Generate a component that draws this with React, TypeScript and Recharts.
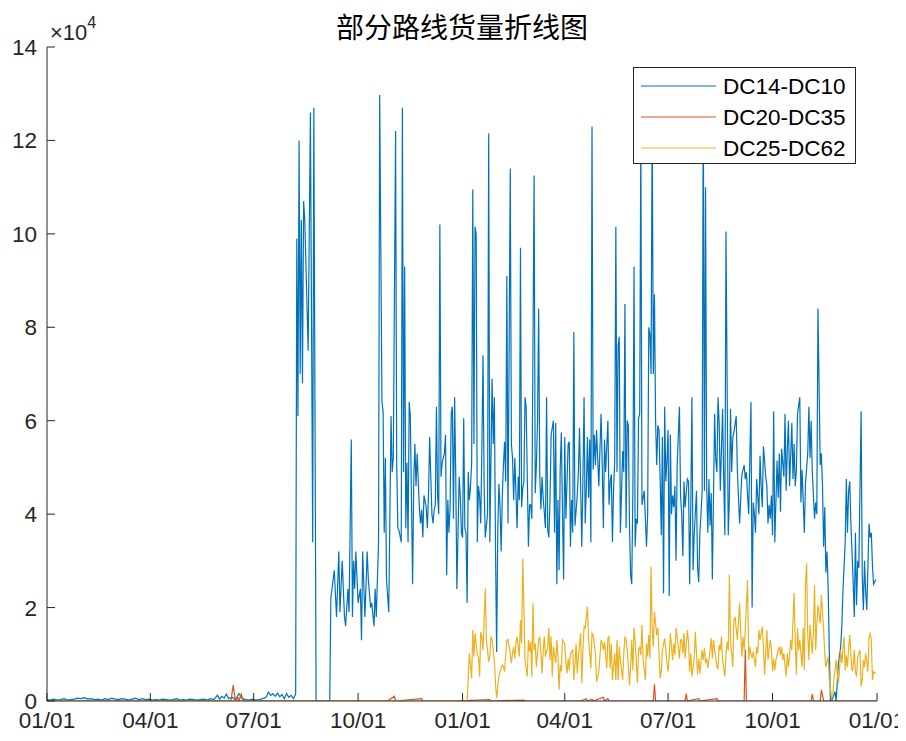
import React from 'react';
import { LineChart, Line, XAxis, YAxis } from 'recharts';

// ---- axis definitions (day index from 01/01 of a leap year, two years) ----
const xTicks = [0, 91, 182, 274, 366, 456, 547, 639, 731];
const xTickLabels = ['01/01', '04/01', '07/01', '10/01', '01/01', '04/01', '07/01', '10/01', '01/01'];
const yTicks = [0, 2, 4, 6, 8, 10, 12, 14];
const seriesNames = ['DC14-DC10', 'DC20-DC35', 'DC25-DC62'];
const seriesColors = ['#0072BD', '#D95319', '#EDB120'];
const chartTitle = '部分路线货量折线图';

// ---- values in units of 10^4, [day, value] ----
const dc14Early: [number, number][] = [
  [0,0.03],[3,0.02],[6,0.04],[9,0.02],[12,0.03],[15,0.05],[18,0.02],[21,0.03],[24,0.04],[27,0.06],[30,0.05],[33,0.07],[36,0.04],[39,0.05],[42,0.03],[45,0.04],[48,0.02],[51,0.05],[54,0.03],[57,0.06],[60,0.04],[63,0.03],[66,0.05],[69,0.04],[72,0.02],[75,0.04],[78,0.06],[81,0.03],[84,0.05],[87,0.03],[90,0.04],[93,0.02],[96,0.03],[99,0.02],[102,0.04],[105,0.03],[108,0.02],[111,0.03],[114,0.05],[117,0.02],[120,0.03],[123,0.02],[126,0.04],[129,0.03],[132,0.02],[135,0.03],[138,0.04],[141,0.02],[144,0.05],[147,0.03],[150,0.12],[152,0.04],[154,0.1],[156,0.06],[158,0.15],[160,0.05],[163,0.08],[166,0.03],[169,0.16],[172,0.05],[175,0.03],[178,0.02],[181,0.04],[184,0.02],[187,0.03],[190,0.05],[193,0.08],[195,0.19],[197,0.12],[199,0.16],[201,0.1],[203,0.17],[205,0.09],[207,0.14],[209,0.05],[211,0.16],[213,0.08],[215,0.12],[217,0.05],[219,0.15],
];
const dc14Peak: [number, number][] = [
  [220,9.9],[221,6.1],[222,12.0],[223,7.0],[224,10.3],[225,6.8],[226,10.7],[227,10.3],[228,9.4],[230,7.5],[232,12.6],[234,3.4],[235,12.7],[237,0],[249,0],
];
const dc14Autumn: [number, number][] = [
  [250,2.2],[251,2.4],[253,2.8],[255,1.8],[257,3.2],[258,1.9],[260,3.0],[262,1.8],[263,1.6],[265,2.4],[266,1.9],[268,5.6],[269,1.8],[270,3.0],[271,2.4],[272,3.2],[274,2.1],[276,2.4],[277,1.3],[278,3.2],[280,1.8],[282,3.2],[283,2.6],[285,2.0],[286,2.1],[288,1.6],[289,2.4],[290,1.8],[292,3.4],
];
const dc14Main1: [number, number][] = [
  [293,12.97],[295,6.4],[296,6.2],[297,3.6],[298,5.2],[299,2.6],[301,1.9],[303,6.1],[304,4.9],[305,5.2],[307,12.2],[308,5.1],[309,3.7],[310,3.65],[312,3.4],[313,12.7],[314,4.9],[315,9.3],[316,3.7],[317,5.1],[318,3.4],[319,6.4],[320,6.1],[322,2.5],[323,4.7],[324,5.5],[325,4.6],[326,5.3],[327,4.7],[328,4.1],[329,3.8],[330,4.1],[331,3.5],[332,4.4],[334,4.15],[335,3.7],[336,4.4],[337,5.65],[339,4.0],[340,3.8],[341,4.1],[342,4.2],[343,6.3],[344,4.4],[345,4.0],[346,10.2],[347,4.8],[348,5.1],[350,5.3],[351,5.7],[352,2.7],[353,4.3],[354,3.6],[355,4.15],[356,6.15],[357,6.3],[358,3.9],[359,6.5],[360,4.8],[361,2.4],[363,4.8],[364,4.4],[365,3.6],[366,3.5],[367,6.05],[368,3.7],[369,3.6],[370,2.1],[371,4.9],[372,4.3],[373,4.6],[374,5.1],[375,10.95],[376,5.5],[377,10.15],[378,10.0],[379,3.4],
];
const dc14Main2: [number, number][] = [
  [380,4.6],[381,4.4],[382,3.8],[383,5.4],[384,7.4],[385,4.6],[386,3.5],[388,4.0],[389,12.15],[390,3.4],[392,6.9],[393,5.5],[394,6.5],[395,3.3],[396,1.05],[397,3.6],[398,4.65],[399,4.15],[400,3.2],[401,4.4],[402,5.05],[403,5.55],[404,4.7],[405,9.1],[406,3.8],[408,11.4],[409,5.5],[410,5.2],[411,4.3],[412,5.2],[414,3.7],[415,4.8],[416,4.3],[417,9.7],[418,4.15],[419,4.55],[420,4.7],[421,6.5],[422,6.3],[424,3.3],[425,4.2],[426,4.2],[427,3.9],[429,11.25],[430,4.45],[431,5.05],[432,5.95],[433,8.4],[434,4.85],[435,4.1],[436,4.8],[437,4.35],[439,3.7],[440,6.5],[441,3.65],[442,3.5],[443,4.3],[444,5.7],[446,6.0],[447,3.6],[448,5.95],[449,2.5],[450,4.3],[451,2.8],[452,5.0],[453,5.75],[454,4.05],[455,2.6],[456,5.65],[457,3.9],[459,5.5],[460,5.55],[461,3.3],[462,4.3],[463,3.6],[464,7.9],
];
const dc14Main3: [number, number][] = [
  [465,3.75],[467,4.4],[468,4.9],[469,5.85],[471,3.3],[472,4.75],[473,6.5],[474,3.8],[475,4.55],[476,5.65],[477,4.35],[478,5.6],[479,3.4],[480,12.3],[481,4.95],[482,5.7],[483,5.05],[484,5.8],[486,4.6],[487,5.4],[488,6.15],[489,5.05],[490,3.7],[491,5.6],[492,4.9],[494,6.0],[495,4.2],[496,4.7],[497,4.85],[498,3.4],[499,4.55],[500,5.15],[501,10.15],[502,4.9],[503,7.6],[504,7.8],[505,3.6],[507,5.35],[508,4.9],[509,8.5],[510,3.7],[511,6.0],[512,5.9],[513,3.8],[514,2.7],[515,2.5],[516,4.5],[517,9.3],[518,3.3],[519,3.9],[520,3.8],[521,6.05],[522,6.15],[523,12.1],[524,4.2],[525,4.35],[526,4.5],[527,3.9],[528,3.3],[529,4.0],[530,8.0],[531,7.85],[532,7.0],[533,12.4],[534,7.0],[535,8.7],[536,6.0],[537,5.05],[538,5.9],[539,5.8],[540,4.75],[541,3.55],[542,5.65],[543,2.3],[544,6.3],[545,4.7],[546,5.15],[547,5.8],[548,2.25],[549,5.7],
];
const dc14Main4: [number, number][] = [
  [550,4.0],[551,4.4],[552,4.15],[553,4.6],[554,3.0],[555,5.05],[557,6.3],[558,4.4],[559,4.0],[560,3.1],[561,4.7],[562,4.15],[564,4.75],[565,4.7],[566,2.5],[567,4.2],[568,6.5],[569,2.8],[570,3.55],[572,4.5],[573,2.85],[574,2.55],[575,3.6],[576,4.0],[577,4.5],[578,13.0],[579,4.5],[580,11.0],[581,4.6],[582,3.6],[583,4.75],[584,3.75],[585,4.45],[586,2.6],[588,6.15],[589,5.15],[590,4.9],[591,6.5],[592,5.95],[593,4.5],[595,6.25],[596,4.75],[597,3.55],[598,10.05],[600,3.55],[601,4.35],[602,6.25],[603,4.9],[604,5.65],[605,5.75],[607,6.1],[608,4.95],[609,4.35],[610,3.8],[611,4.35],[612,4.85],[614,5.05],[615,4.75],[616,4.9],[617,4.4],[618,4.0],[620,6.4],[621,2.0],[622,4.25],[623,4.0],[624,3.6],[625,4.75],[627,4.0],
];
const dc14Main5: [number, number][] = [
  [628,5.25],[629,4.6],[630,4.15],[631,5.45],[633,4.8],[634,4.6],[635,3.8],[636,4.2],[637,3.9],[638,4.4],[639,3.55],[640,6.2],[641,3.4],[643,5.15],[644,4.35],[645,5.3],[646,4.05],[647,5.4],[649,4.8],[650,6.15],[651,4.5],[652,5.4],[653,6.0],[654,4.6],[656,5.95],[657,4.75],[658,5.5],[659,4.6],[660,4.95],[661,6.15],[663,6.5],[664,4.25],[665,4.95],[666,4.3],[667,3.6],[668,4.65],[670,5.3],[671,6.3],[672,5.2],[673,6.0],[674,4.9],[676,3.9],[677,4.25],[678,4.0],[679,8.4],[681,5.05],[682,5.3],[683,4.6],[684,3.3],[685,4.15],[686,2.75],[687,3.2],[688,2.4],[689,1.05],[690,0],[692,0.05],[694,0.2],[695,0],[697,0.8],[699,1.15],[700,1.6],[701,2.35],[703,3.4],[704,4.75],[705,3.6],[706,4.5],[707,4.7],[708,3.8],[710,2.55],[711,1.8],[712,3.6],[713,2.05],[714,3.0],[715,2.85],[717,6.2],[718,2.7],[719,1.95],[720,3.0],[721,2.35],[722,1.95],[724,3.8],[725,3.5],[726,3.6],[727,2.9],[728,2.5],[730,2.6],
];

const dc20: [number, number][] = [
  [0,0],[100,0],[162,0],[164,0.34],[166,0],[168,0.08],[169,0],[171,0.15],[173,0],[300,0],[306,0.1],[307,0],[330,0.05],[331,0],[360,0],[390,0.03],[391,0],[420,0.02],[421,0],[470,0],[475,0.05],[476,0],[480,0.04],[481,0],[490,0.08],[491,0],[494,0.05],[495,0],[534,0],[535,0.36],[536,0],[562,0],[563,0.16],[564,0],[574,0.05],[575,0],[590,0.05],[591,0],[614,0],[615,1.1],[616,0],[673,0],[674,0.15],[675,0],[681,0],[682,0.24],[683,0.13],[684,0],[730,0],
];

const dc25a: [number, number][] = [
  [0,0],[370,0],[372,1.02],[374,0.49],[375,1.52],[376,0.95],[377,1.45],[379,0.99],[380,0.95],[381,0.52],[382,1.48],[383,1.38],[384,1.09],[386,2.41],[387,1.31],[389,0.84],[390,0.95],[391,1.38],[392,1.31],[394,0.88],[395,0.38],[396,0.06],[397,0.31],[398,0.52],[399,0.63],[401,0.77],[402,0.73],[403,0.63],[404,0.99],[405,1.31],[406,1.32],[408,1.02],[409,0.81],[410,1.02],[411,1.16],[412,0.91],[413,1.23],[414,1.38],[416,0.95],[417,1.73],[418,1.23],[419,3.05],[420,2.02],[421,0.88],[423,0.52],[424,1.31],[425,1.06],[426,1.27],[427,0.52],[428,2.09],[429,1.09],[430,1.23],[431,0.73],[433,1.31],[434,1.38],[435,1.02],[436,0.59],[437,1.09],[438,1.38],[439,0.95],[441,1.16],[442,1.56],[443,0.88],[444,1.38],[445,0.52],[446,1.16],[448,0.81],[449,1.31],[450,0.95],[451,0.24],[452,0.77],[453,0.63],[454,1.31],[456,1.23],[457,0.81],[458,0.59],[459,0.91],[460,0.66],[461,1.02],[463,1.09],[464,0.45],[465,0.81],[466,1.23],[467,0.59],[468,0.95],[470,1.45],[471,0.38],[472,1.09],[473,1.59],[474,1.56],[476,2.02],[477,1.31],[478,1.02],[479,0.70],[480,1.45],[481,1.41],[483,1.02],[484,0.41],
];
const dc25b: [number, number][] = [
  [486,0.63],[488,1.31],[489,1.23],[490,1.09],[491,1.27],[493,0.70],[494,1.34],[495,1.38],[496,0.70],[497,1.23],[498,0.45],[500,1.02],[501,0.45],[502,1.31],[503,0.45],[504,1.16],[505,0.88],[507,0.45],[508,1.02],[509,1.38],[510,1.31],[511,1.09],[513,0.34],[514,0.73],[515,1.31],[516,0.66],[517,1.56],[518,1.31],[520,0.38],[521,1.09],[522,1.16],[523,0.98],[524,1.63],[525,0.88],[527,0.45],[528,1.23],[529,0.95],[530,1.41],[531,0.91],[532,2.88],[533,1.56],[534,1.16],[535,1.91],[537,1.41],[538,1.56],[539,1.02],[540,0.49],[541,0.63],[542,1.09],[544,1.34],[545,1.09],[546,0.81],[547,0.63],[548,0.95],[549,1.45],[551,0.88],[552,1.23],[553,0.98],[554,1.56],[555,1.38],[557,0.91],[558,1.31],[559,1.31],[560,1.02],[561,1.45],[562,0.91],[564,1.52],[565,1.27],[566,0.63],[567,1.02],[568,0.52],[570,0.91],[571,1.48],[572,1.02],[573,0.56],[574,0.91],[575,0.59],[577,1.09],[578,0.88],[579,1.13],[580,0.81],[581,0.91],[582,0.70],[584,1.09],[585,1.34],[586,0.91],[587,1.31],[588,1.09],[590,0.73],[591,0.70],[592,1.2],[593,1.09],[594,1.38],[595,0.88],[597,0.52],[598,1.02],[599,1.27],[600,1.09],[601,2.7],[602,1.31],[604,0.73],[605,1.73],
];
const dc25c: [number, number][] = [
  [606,1.80],[607,1.56],[608,1.31],[610,2.09],[611,1.45],[612,0.95],[613,1.38],[614,1.09],[615,1.52],[617,2.59],[618,0.88],[619,1.16],[620,1.02],[621,0.91],[622,1.06],[624,0.73],[625,1.16],[626,1.02],[627,1.52],[628,1.31],[630,1.59],[631,1.16],[632,0.56],[633,1.02],[634,1.52],[635,0.88],[637,1.31],[638,1.13],[639,0.63],[640,0.91],[641,0.66],[642,0.88],[644,1.09],[645,1.16],[646,0.98],[647,1.16],[648,0.88],[649,1.02],[651,0.52],[652,1.02],[653,0.73],[654,0.95],[655,1.31],[656,1.09],[658,2.31],[659,1.27],[660,0.56],[661,1.56],[662,1.09],[663,1.31],[665,0.73],[666,1.56],[667,0.66],[668,2.52],[669,2.95],[670,1.45],[671,0.88],[672,1.63],[674,1.02],[675,1.45],[676,2.48],[677,1.09],[678,1.63],[679,2.05],[681,1.66],[682,2.27],[683,1.91],[684,1.52],[685,1.02],[686,0.73],[688,0.95],[689,0.45],[690,0.27],[691,0.06],[692,0.09],[693,0.45],[695,0.88],[696,0.59],[697,0.38],[698,0.66],[699,1.09],[700,0.81],[702,1.38],[703,0.66],[704,0.98],[705,0.73],[706,1.13],[707,1.41],[709,0.63],[710,0.73],[711,1.09],[712,0.63],[713,0.52],[714,0.95],[716,1.09],[717,0.31],[718,0.45],[719,0.88],[720,0.73],[721,1.02],[723,0.63],[724,1.38],[725,1.45],[726,1.31],[727,0.45],[728,0.63],[730,0.59],
];

const toPoints = (arr: [number, number][]) => arr.map(([day, v]) => ({ day, v }));
const dc14Data = toPoints([...dc14Early, ...dc14Peak, ...dc14Autumn, ...dc14Main1, ...dc14Main2, ...dc14Main3, ...dc14Main4, ...dc14Main5]);
const dc20Data = toPoints(dc20);
const dc25Data = toPoints([...dc25a, ...dc25b, ...dc25c]);

const FONT = '"Liberation Sans", Arial, Helvetica, sans-serif';
const AXIS = '#262626';
const TICK_FS = 22.5;

const XTick = (props: any) => {
  const { x, y, payload } = props;
  const i = xTicks.indexOf(payload.value);
  return (
    <g>
      <line x1={x} x2={x} y1={y} y2={y - 8} stroke={AXIS} strokeWidth={1} />
      <text x={x} y={y + 27} textAnchor="middle" fontSize={TICK_FS} fontFamily={FONT} fill={AXIS}>
        {xTickLabels[i]}
      </text>
    </g>
  );
};

const YTick = (props: any) => {
  const { x, y, payload } = props;
  return (
    <g>
      <line x1={x} x2={x + 8} y1={y} y2={y} stroke={AXIS} strokeWidth={1} />
      <text x={x - 10} y={y + 8} textAnchor="end" fontSize={TICK_FS} fontFamily={FONT} fill={AXIS}>
        {payload.value}
      </text>
    </g>
  );
};

export default function App() {
  // the wrapper is shifted onto the page origin so chart coordinates equal page pixels
  const W = 906;
  const H = 733;
  return (
    <div style={{ position: 'relative', width: W, height: H, marginLeft: -8, marginTop: -8, background: '#fff' }}>
      <LineChart width={W} height={H} margin={{ top: 47, right: 29, left: 0, bottom: 0 }}>
        <XAxis
          type="number"
          dataKey="day"
          domain={[0, 731]}
          ticks={xTicks}
          interval={0}
          height={32}
          tickSize={0}
          tickMargin={0}
          tickLine={false}
          axisLine={{ stroke: AXIS, strokeWidth: 1 }}
          tick={<XTick />}
          allowDataOverflow
        />
        <YAxis
          type="number"
          domain={[0, 14]}
          ticks={yTicks}
          interval={0}
          width={47}
          tickSize={0}
          tickMargin={0}
          tickLine={false}
          axisLine={{ stroke: AXIS, strokeWidth: 1 }}
          tick={<YTick />}
          allowDataOverflow
        />
        <Line data={dc14Data} dataKey="v" name={seriesNames[0]} stroke={seriesColors[0]} strokeWidth={1.2} dot={false} activeDot={false} isAnimationActive={false} />
        <Line data={dc20Data} dataKey="v" name={seriesNames[1]} stroke={seriesColors[1]} strokeWidth={1.2} dot={false} activeDot={false} isAnimationActive={false} />
        <Line data={dc25Data} dataKey="v" name={seriesNames[2]} stroke={seriesColors[2]} strokeWidth={1.2} dot={false} activeDot={false} isAnimationActive={false} />
      </LineChart>
      <svg width={W} height={H} style={{ position: 'absolute', left: 0, top: 0, pointerEvents: 'none' }}>
        <text x={462} y={38} textAnchor="middle" fontSize={28} fontFamily='"Noto Sans CJK SC", sans-serif' fill="#000">
          {chartTitle}
        </text>
        <text x={50} y={40} fontSize={22} fontFamily={FONT} fill={AXIS}>
          ×10<tspan dy={-12} fontSize={16}>4</tspan>
        </text>
        <rect x={633.5} y={67.5} width={222} height={96} fill="#fff" stroke={AXIS} strokeWidth={1} />
        {seriesNames.map((n, i) => (
          <g key={n}>
            <line x1={641} x2={716} y1={86 + i * 31} y2={86 + i * 31} stroke={seriesColors[i]} strokeWidth={1.2} />
            <text x={723} y={94 + i * 31} fontSize={TICK_FS} fontFamily={FONT} fill="#000">{n}</text>
          </g>
        ))}
      </svg>
    </div>
  );
}
